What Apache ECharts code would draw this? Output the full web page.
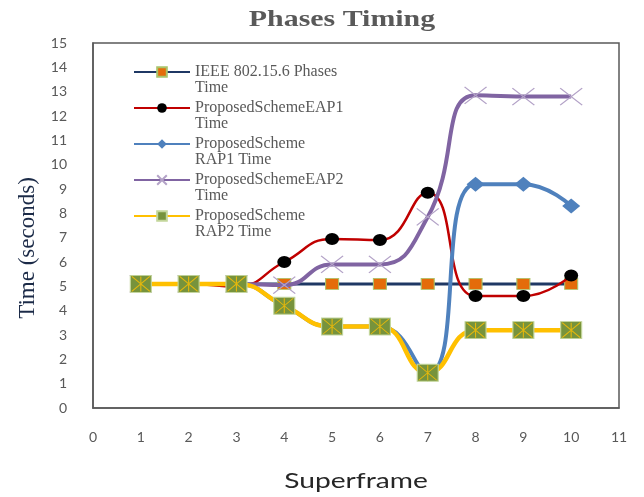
<!DOCTYPE html>
<html>
<head>
<meta charset="utf-8">
<script src="https://cdn.jsdelivr.net/npm/echarts@6/dist/echarts.min.js"></script>
<style>
  html, body { margin: 0; padding: 0; background: #fff; }
  #chart { width: 644px; height: 497px; }
</style>
</head>
<body>
<div id="chart"></div>
<script>
// Superframe numbers on the x axis
const superframes = [1, 2, 3, 4, 5, 6, 7, 8, 9, 10];

// Phase timing (seconds) per scheme
const ieeeTime = [5.1, 5.1, 5.1, 5.1, 5.1, 5.1, 5.1, 5.1, 5.1, 5.1];
const eap1Time = [5.1, 5.1, 5.0, 6.0, 6.95, 6.9, 8.85, 4.6, 4.6, 5.45];
const rap1Time = [5.1, 5.1, 5.1, 4.2, 3.35, 3.35, 1.4, 9.2, 9.2, 8.3];
const eap2Time = [5.1, 5.1, 5.1, 5.05, 5.9, 5.9, 7.85, 12.85, 12.8, 12.8];
const rap2Time = [5.1, 5.1, 5.1, 4.2, 3.35, 3.35, 1.45, 3.2, 3.2, 3.2];

const seriesNames = [
  'IEEE 802.15.6 Phases\nTime',
  'ProposedSchemeEAP1\nTime',
  'ProposedScheme\nRAP1 Time',
  'ProposedSchemeEAP2\nTime',
  'ProposedScheme\nRAP2 Time'
];

const chartTitle = 'Phases Timing';
const xAxisTitle = 'Superframe';
const yAxisTitle = 'Time (seconds)';

const pairs = vals => superframes.map((x, i) => [x, vals[i]]);

const crossPath = 'path://M0,0L10,10M10,0L0,10';
const starPath = 'path://M0,0L10,10M10,0L0,10M5,0L5,10';
const SMOOTH = 0.5;

const chart = echarts.init(document.getElementById('chart'), null, { renderer: 'canvas' });

chart.setOption({
  animation: false,
  backgroundColor: '#ffffff',
  graphic: [
    {
      type: 'text',
      x: 342, y: 20,
      scaleX: 1.3,
      style: {
        text: chartTitle,
        x: 0, y: 0,
        align: 'center',
        verticalAlign: 'middle',
        font: 'bold 23px "Liberation Serif"',
        fill: '#595959'
      }
    },
    {
      type: 'text',
      x: 356, y: 481,
      scaleX: 1.28,
      style: {
        text: xAxisTitle,
        x: 0, y: 0,
        align: 'center',
        verticalAlign: 'middle',
        font: '22px Lato',
        fill: '#262626'
      }
    }
  ],
  grid: {
    left: 93, right: 25, top: 43, bottom: 89,
    outerBoundsMode: 'none',
    containLabel: false,
    show: true,
    borderColor: '#595959',
    borderWidth: 1.5,
    backgroundColor: 'transparent'
  },
  legend: {
    orient: 'vertical',
    left: 133,
    top: 48,
    padding: 0,
    itemWidth: 56,
    itemHeight: 12,
    itemGap: -12,
    data: seriesNames,
    // a blank leading line keeps the first text line level with the icon
    formatter: name => '\n' + name,
    textStyle: {
      fontFamily: 'Liberation Serif',
      fontSize: 16,
      color: '#595959',
      lineHeight: 16
    }
  },
  xAxis: {
    type: 'value',
    min: 0, max: 11, interval: 1,
    axisLine: { show: true, lineStyle: { color: '#595959', width: 1.5 } },
    axisTick: { show: false },
    splitLine: { show: false },
    axisLabel: { margin: 22, fontFamily: 'Lato', fontSize: 14, color: '#595959' }
  },
  yAxis: {
    type: 'value',
    min: 0, max: 15, interval: 1,
    name: yAxisTitle,
    nameLocation: 'middle',
    nameGap: 52,
    nameTextStyle: {
      fontFamily: 'Liberation Serif',
      fontSize: 23,
      color: '#1b2a47',
      padding: [0, 45, 0, 0]
    },
    axisLine: { show: true, lineStyle: { color: '#595959', width: 1.5 } },
    axisTick: { show: false },
    splitLine: { show: false },
    axisLabel: { margin: 26, fontFamily: 'Lato', fontSize: 14, color: '#595959' }
  },
  series: [
    {
      name: seriesNames[0],
      type: 'line',
      data: pairs(ieeeTime),
      smooth: SMOOTH,
      symbol: 'rect',
      symbolSize: [13, 11],
      lineStyle: { color: '#1F3864', width: 3 },
      itemStyle: { color: '#E46C0A', borderColor: '#A9C46A', borderWidth: 1 },
      z: 2
    },
    {
      name: seriesNames[1],
      type: 'line',
      data: pairs(eap1Time),
      smooth: SMOOTH,
      symbol: 'circle',
      symbolSize: [14, 12],
      lineStyle: { color: '#C00000', width: 2.5 },
      itemStyle: { color: '#000000' },
      z: 3
    },
    {
      name: seriesNames[2],
      type: 'line',
      data: pairs(rap1Time),
      smooth: SMOOTH,
      symbol: 'diamond',
      symbolSize: [18, 15],
      lineStyle: { color: '#4F81BD', width: 4 },
      itemStyle: { color: '#4F81BD' },
      z: 4
    },
    {
      name: seriesNames[3],
      type: 'line',
      data: pairs(eap2Time),
      smooth: SMOOTH,
      symbol: crossPath,
      symbolSize: [22, 17],
      lineStyle: { color: '#8064A2', width: 4 },
      itemStyle: { color: 'rgba(0,0,0,0)', borderColor: '#B3A2C7', borderWidth: 1.2 },
      z: 5
    },
    {
      name: seriesNames[4],
      type: 'line',
      data: pairs(rap2Time),
      smooth: SMOOTH,
      symbol: 'rect',
      symbolSize: [21, 17],
      lineStyle: { color: '#FFC000', width: 4.5 },
      itemStyle: { color: '#77933C', borderColor: '#C3D69B', borderWidth: 1 },
      z: 6
    },
    {
      // star overlay drawn on top of the RAP2 square markers
      name: 'rap2-star',
      type: 'scatter',
      data: pairs(rap2Time),
      symbol: starPath,
      symbolSize: [18, 15],
      itemStyle: { color: 'rgba(0,0,0,0)', borderColor: '#FFC000', borderWidth: 1 },
      silent: true,
      z: 7
    }
  ]
});
</script>
</body>
</html>
